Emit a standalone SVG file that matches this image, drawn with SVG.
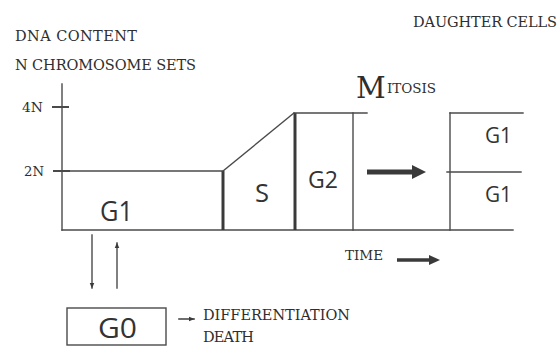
<svg xmlns="http://www.w3.org/2000/svg" width="558" height="346" viewBox="0 0 558 346">
<style>
.ln{stroke:#4a4a4a;stroke-width:1.4;fill:none;stroke-linecap:square}
.thk{stroke:#3a3a3a;stroke-width:3;fill:none}
.cap{font-family:"DejaVu Serif","Liberation Serif",serif;fill:#2e2e2e;font-size:14.5px}
.ph{font-family:"Open Sans","DejaVu Sans",sans-serif;fill:#333;}
</style>
<defs>
<marker id="ah" viewBox="0 0 10 10" refX="9" refY="5" markerWidth="6" markerHeight="6" markerUnits="userSpaceOnUse" orient="auto">
<path d="M0,1 L10,5 L0,9 Z" fill="#3a3a3a"/>
</marker>
</defs>
<rect width="558" height="346" fill="#fff"/>
<g id="labels">
<text class="cap" x="15" y="41" textLength="122" lengthAdjust="spacing">DNA CONTENT</text>
<text class="cap" x="15" y="70" textLength="181" lengthAdjust="spacing">N CHROMOSOME SETS</text>
<text class="cap" x="413" y="27" textLength="144" lengthAdjust="spacing">DAUGHTER CELLS</text>
<text class="cap" x="356" y="98" style="font-size:29px">M</text>
<text class="cap" x="387" y="93" textLength="49" lengthAdjust="spacing" style="font-size:13.5px">ITOSIS</text>
<text class="cap" x="345" y="260" textLength="38" lengthAdjust="spacing" style="font-size:13.5px">TIME</text>
</g>
<g id="axis">
<line class="ln" x1="62" y1="84" x2="62" y2="230"/>
<line class="ln" x1="53" y1="107" x2="68" y2="107" style="stroke-width:2"/>
<line class="ln" x1="54" y1="171" x2="69" y2="171" style="stroke-width:2"/>
<text class="cap" x="22" y="112" textLength="21" lengthAdjust="spacingAndGlyphs" style="font-size:13px">4N</text>
<text class="cap" x="24" y="176" textLength="20" lengthAdjust="spacingAndGlyphs" style="font-size:13px">2N</text>
<line class="ln" x1="62" y1="230" x2="513" y2="230"/>
</g>
<g id="g1">
<line class="ln" x1="62" y1="171" x2="223" y2="171"/>
<line class="thk" x1="223" y1="171" x2="223" y2="230"/>
<text class="ph" x="100" y="221" textLength="33" lengthAdjust="spacingAndGlyphs" style="font-size:28px">G1</text>
</g>
<g id="s">
<line class="ln" x1="223" y1="171" x2="294" y2="113"/>
<line class="thk" x1="295" y1="113" x2="295" y2="230"/>
<text class="ph" x="255" y="202" textLength="14" lengthAdjust="spacingAndGlyphs" style="font-size:26px">S</text>
</g>
<g id="g2">
<line class="ln" x1="294" y1="113" x2="367" y2="113"/>
<line class="ln" x1="353" y1="113" x2="353" y2="230"/>
<text class="ph" x="308" y="188" textLength="30" lengthAdjust="spacingAndGlyphs" style="font-size:24px">G2</text>
</g>
<g id="daughters">
<line class="ln" x1="450" y1="113" x2="450" y2="230"/>
<line class="ln" x1="450" y1="113" x2="523" y2="113"/>
<line class="ln" x1="447" y1="172" x2="521" y2="172"/>
<text class="ph" x="485" y="143" textLength="27" lengthAdjust="spacingAndGlyphs" style="font-size:22px">G1</text>
<text class="ph" x="485" y="202" textLength="27" lengthAdjust="spacingAndGlyphs" style="font-size:22px">G1</text>
</g>
<g id="g0">
<rect class="ln" x="67" y="308" width="99" height="37"/>
<text class="ph" x="98" y="338" textLength="39" lengthAdjust="spacingAndGlyphs" style="font-size:27px">G0</text>
<text class="cap" x="203" y="320" textLength="147" lengthAdjust="spacing">DIFFERENTIATION</text>
<text class="cap" x="203" y="342" textLength="51" lengthAdjust="spacing">DEATH</text>
</g>
<g id="connectors">
<line class="ln" x1="92" y1="235" x2="92" y2="288" marker-end="url(#ah)"/>
<line class="ln" x1="117" y1="288" x2="117" y2="243" marker-end="url(#ah)"/>
<line class="ln" x1="179" y1="319" x2="194" y2="319" style="stroke-width:1.6" marker-end="url(#ah)"/>
<line x1="367" y1="172" x2="414" y2="172" stroke="#3a3a3a" stroke-width="5"/>
<polygon points="412,165 426,172 412,179" fill="#3a3a3a"/>
<line x1="397" y1="260" x2="431" y2="260" stroke="#3a3a3a" stroke-width="3.5"/>
<polygon points="429,255 440,260 429,265" fill="#3a3a3a"/>
</g>
</svg>
